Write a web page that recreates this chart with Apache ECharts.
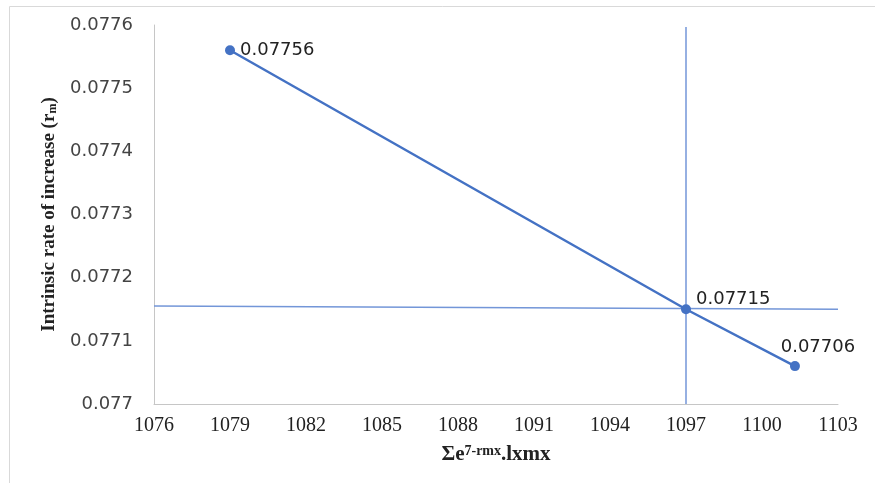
<!DOCTYPE html>
<html>
<head>
<meta charset="utf-8">
<script src="https://cdn.jsdelivr.net/npm/echarts@6/dist/echarts.min.js"></script>
<style>
  html, body { margin: 0; padding: 0; background: #fff; }
  #chart { width: 875px; height: 483px; }
</style>
</head>
<body>
<div id="chart"></div>
<script>
// data
const sumValues = [1079, 1097, 1101.3];
const rmValues = [0.07756, 0.07715, 0.07706];
const labelValues = ['0.07756', '0.07715', '0.07706'];
// guide lines through the middle point
const hLine = [[1076, 0.077155], [1103, 0.07715]];
const vLine = [[1097, 0.077], [1097, 0.077597]];
// axis ranges
const xMin = 1076, xMax = 1103, xStep = 3;
const yMin = 0.077, yMax = 0.0776, yStep = 0.0001;

const blue = '#4472C4';
const guide = '#7396d8';
const serif = '"Liberation Serif", "Times New Roman", serif';
const sans = '"DejaVu Sans", sans-serif';

const chart = echarts.init(document.getElementById('chart'));

// label offsets per point (right / right-up / above)
const labelPos = [
  { position: 'right', distance: 5, offset: [0, 0] },
  { position: 'right', distance: 5, offset: [0, -10] },
  { position: 'top', distance: 5, offset: [23, 0] },
];

const mainData = sumValues.map((x, i) => ({
  value: [x, rmValues[i]],
  label: Object.assign({ show: true, formatter: labelValues[i] }, labelPos[i]),
}));

chart.setOption({
  animation: false,
  graphic: [{
    type: 'rect',
    silent: true,
    z: -10,
    shape: { x: 9.5, y: 6.5, width: 900, height: 500 },
    style: { fill: 'none', stroke: '#d9d9d9', lineWidth: 1 },
  }],
  grid: { left: 154, right: 37, top: 25, bottom: 79 },
  xAxis: {
    type: 'value',
    min: xMin,
    max: xMax,
    interval: xStep,
    splitLine: { show: false },
    axisTick: { show: false },
    axisLine: { lineStyle: { color: '#c6c6c6', width: 1 } },
    axisLabel: {
      fontFamily: serif, fontSize: 20, color: '#222', margin: 12,
      formatter: v => String(v),
    },
    name: '{b|Σe}{sup|7-rmx}{b|.lxmx}',
    nameLocation: 'middle',
    nameGap: 40,
    nameTextStyle: {
      rich: {
        b: { fontFamily: serif, fontWeight: 'bold', fontSize: 21, color: '#222' },
        sup: { fontFamily: serif, fontWeight: 'bold', fontSize: 14, color: '#222', verticalAlign: 'top', padding: [0, 0, 8, 0] },
      },
    },
  },
  yAxis: {
    type: 'value',
    min: yMin,
    max: yMax,
    interval: yStep,
    splitLine: { show: false },
    axisTick: { show: false },
    axisLine: { show: true, lineStyle: { color: '#c6c6c6', width: 1 } },
    axisLabel: {
      fontFamily: sans, fontSize: 18, color: '#444', margin: 21,
      formatter: v => String(+v.toFixed(4)),
    },
    name: '{b|Intrinsic rate of increase (r}{sub|m}{b|)}',
    nameLocation: 'middle',
    nameRotate: 90,
    nameGap: 95,
    nameTextStyle: {
      rich: {
        b: { fontFamily: serif, fontWeight: 'bold', fontSize: 19, color: '#222' },
        sub: { fontFamily: serif, fontWeight: 'bold', fontSize: 12, color: '#222', verticalAlign: 'bottom', padding: [6, 0, 0, 0] },
      },
    },
  },
  series: [
    {
      type: 'line',
      data: hLine,
      symbol: 'none',
      silent: true,
      lineStyle: { color: guide, width: 1.5 },
      z: 1,
    },
    {
      type: 'line',
      data: vLine,
      symbol: 'none',
      silent: true,
      lineStyle: { color: guide, width: 1.5 },
      z: 1,
    },
    {
      type: 'line',
      data: mainData,
      symbol: 'circle',
      symbolSize: 10,
      itemStyle: { color: blue },
      lineStyle: { color: blue, width: 2.5 },
      label: { fontFamily: sans, fontSize: 18, color: '#222' },
      z: 3,
    },
  ],
});
</script>
</body>
</html>
